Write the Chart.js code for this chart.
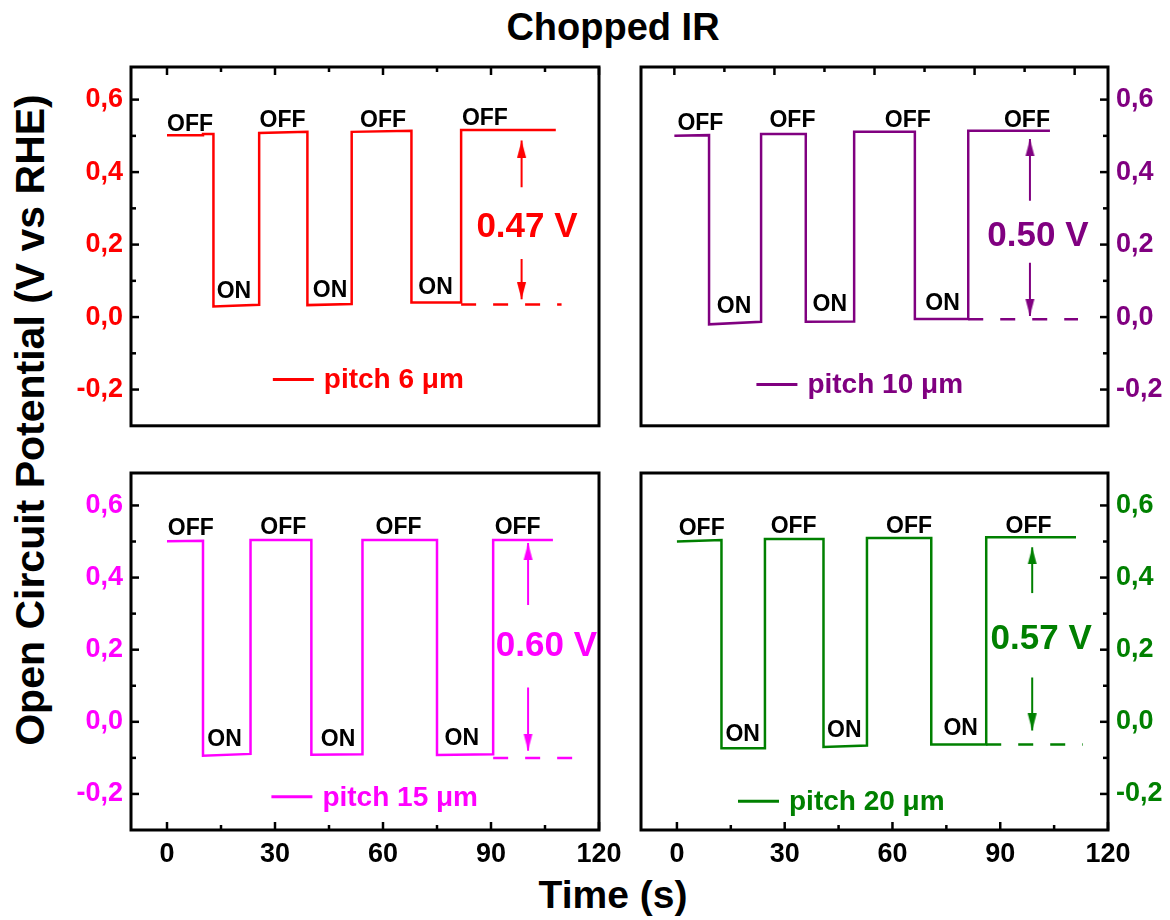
<!DOCTYPE html>
<html><head><meta charset="utf-8">
<script src="https://cdn.jsdelivr.net/npm/chart.js@4"></script>
<style>
html,body{margin:0;padding:0;background:#fff;}
#wrap{position:relative;width:1170px;height:920px;overflow:hidden;font-family:"Liberation Sans",Arial,sans-serif;font-weight:bold;}
canvas{position:absolute;}
.t{position:absolute;white-space:nowrap;color:#000;}
</style></head><body>
<div id="wrap">
 <div class="t" style="left:613px;top:8px;font-size:38px;line-height:38px;transform:translateX(-50%)">Chopped IR</div>
 <div class="t" style="left:30px;top:420px;font-size:41px;line-height:41px;transform:translate(-50%,-50%) rotate(-90deg)">Open Circuit Potential (V vs RHE)</div>
 <div class="t" style="left:613px;top:875px;font-size:39px;line-height:39px;transform:translateX(-50%)">Time (s)</div>
 <canvas id="tl" width="590" height="410" style="left:50px;top:40px"></canvas>
 <canvas id="tr" width="550" height="410" style="left:620px;top:40px"></canvas>
 <canvas id="bl" width="590" height="480" style="left:50px;top:440px"></canvas>
 <canvas id="br" width="550" height="480" style="left:620px;top:440px"></canvas>
</div>
<script>
// ---------- axis ticks ----------
const xTicks = [0, 30, 60, 90, 120];
const xMinorTicks = [15, 45, 75, 105];
const yTicks = [-0.2, 0, 0.2, 0.4, 0.6];
const yTickLabels = ['-0,2', '0,0', '0,2', '0,4', '0,6'];
const yMinorTicks = [-0.1, 0.1, 0.3, 0.5];

// ---------- pitch 6 µm ----------
const tlLabel = 'pitch 6 \u03bcm';
const tlTime = [0, 10, 10, 12.9, 12.9, 25.6, 25.6, 39.0, 39.0, 51.3, 51.3, 67.9, 67.9, 81.7, 81.7, 108];
const tlVolt = [0.502, 0.502, 0.505, 0.505, 0.029, 0.034, 0.508, 0.511, 0.033, 0.036, 0.511, 0.514, 0.040, 0.040, 0.516, 0.516];
const tlDashT = [81.7, 109.6];
const tlDashV = [0.035, 0.035];
const tlArrowT = 98.5;
const tlArrowV = [0.358, 0.487, 0.160, 0.049];
const tlDelta = '0.47 V';

// ---------- pitch 10 µm ----------
const trLabel = 'pitch 10 \u03bcm';
const trTime = [0, 10.4, 10.4, 26.0, 26.0, 39.4, 39.4, 53.9, 53.9, 72.1, 72.1, 88.1, 88.1, 112.6];
const trVolt = [0.500, 0.502, -0.020, -0.013, 0.505, 0.505, -0.013, -0.012, 0.511, 0.511, -0.005, -0.005, 0.514, 0.514];
const trDashT = [88.1, 121];
const trDashV = [-0.006, -0.006];
const trArrowT = 106.6;
const trArrowV = [0.321, 0.491, 0.150, 0.003];
const trDelta = '0.50 V';

// ---------- pitch 15 µm ----------
const blLabel = 'pitch 15 \u03bcm';
const blTime = [0, 10.0, 10.0, 23.2, 23.2, 40.1, 40.1, 54.3, 54.3, 75.0, 75.0, 90.6, 90.6, 107.2];
const blVolt = [0.501, 0.502, -0.094, -0.089, 0.504, 0.504, -0.091, -0.090, 0.504, 0.504, -0.092, -0.090, 0.504, 0.504];
const blDashT = [90.6, 112.6];
const blDashV = [-0.100, -0.100];
const blArrowT = 100.3;
const blArrowV = [0.324, 0.496, 0.095, -0.080];
const blDelta = '0.60 V';

// ---------- pitch 20 µm ----------
const brLabel = 'pitch 20 \u03bcm';
const brTime = [0, 12.4, 12.4, 24.5, 24.5, 40.8, 40.8, 52.9, 52.9, 70.8, 70.8, 86.1, 86.1, 111.1];
const brVolt = [0.500, 0.504, -0.073, -0.073, 0.507, 0.507, -0.070, -0.066, 0.510, 0.510, -0.063, -0.063, 0.512, 0.512];
const brDashT = [86.1, 113];
const brDashV = [-0.063, -0.063];
const brArrowT = 98.9;
const brArrowV = [0.357, 0.484, 0.123, -0.024];
const brDelta = '0.57 V';

// ---------- annotation anchors (data units) ----------
const notes = {
  tl: {offT: [6.4, 32.1, 60.0, 88.3], offV: [0.514, 0.524, 0.524, 0.530],
       onT: [18.6, 45.3, 74.6], onV: [0.054, 0.056, 0.063],
       deltaT: 100, deltaV: 0.248, legT: 29.4, legV: -0.172},
  tr: {offT: [7.8, 35.4, 70.0, 105.7], offV: [0.517, 0.524, 0.524, 0.524],
       onT: [17.9, 46.6, 80.4], onV: [0.010, 0.017, 0.019],
       deltaT: 109, deltaV: 0.224, legT: 24.6, legV: -0.186},
  bl: {offT: [6.6, 32.3, 64.3, 97.4], offV: [0.517, 0.520, 0.520, 0.520],
       onT: [16.0, 47.5, 81.9], onV: [-0.068, -0.068, -0.064],
       deltaT: 105.4, deltaV: 0.209, legT: 29.0, legV: -0.208},
  br: {offT: [6.9, 32.5, 64.6, 97.9], offV: [0.518, 0.525, 0.525, 0.525],
       onT: [18.3, 46.6, 79.0], onV: [-0.052, -0.042, -0.036],
       deltaT: 101.4, deltaV: 0.229, legT: 17.0, legV: -0.220}
};

const FONT = '"Liberation Sans", Arial, sans-serif';

function arrowHead(color) {
  const c = document.createElement('canvas');
  c.width = 11; c.height = 34;
  const g = c.getContext('2d');
  g.fillStyle = color;
  g.beginPath(); g.moveTo(5.5, 17); g.lineTo(10, 34); g.lineTo(1, 34); g.closePath(); g.fill();
  return c;
}

const decor = {
  id: 'decor',
  afterDatasetsDraw(chart, args, o) {
    const {ctx, chartArea: a} = chart;
    const x = chart.scales.x, y = chart.scales.y;
    const n = o.notes;
    ctx.save();
    // OFF / ON labels
    ctx.fillStyle = '#000';
    ctx.font = 'bold 23px ' + FONT;
    ctx.textAlign = 'center';
    ctx.textBaseline = 'alphabetic';
    n.offT.forEach((t, i) => ctx.fillText('OFF', x.getPixelForValue(t), y.getPixelForValue(n.offV[i])));
    n.onT.forEach((t, i) => ctx.fillText('ON', x.getPixelForValue(t), y.getPixelForValue(n.onV[i])));
    // delta label
    ctx.fillStyle = o.color;
    ctx.font = 'bold 35px ' + FONT;
    ctx.textBaseline = 'middle';
    ctx.fillText(o.delta, x.getPixelForValue(n.deltaT), y.getPixelForValue(n.deltaV));
    // legend
    const lx = x.getPixelForValue(n.legT), ly = y.getPixelForValue(n.legV);
    ctx.strokeStyle = o.color; ctx.lineWidth = 3;
    ctx.beginPath(); ctx.moveTo(lx, ly); ctx.lineTo(lx + 41, ly); ctx.stroke();
    ctx.font = 'bold 28px ' + FONT;
    ctx.textAlign = 'left';
    ctx.fillText(chart.data.datasets[0].label, lx + 51, ly + 1);
    // frame
    ctx.strokeStyle = '#000'; ctx.lineWidth = 3;
    ctx.strokeRect(a.left, a.top, a.right - a.left, a.bottom - a.top);
    // inward ticks
    ctx.lineWidth = 2.5;
    const xt = (vals, len) => vals.forEach(v => {
      const p = x.getPixelForValue(v);
      const y0 = o.xSide === 'top' ? a.top : a.bottom;
      const dir = o.xSide === 'top' ? 1 : -1;
      ctx.beginPath(); ctx.moveTo(p, y0); ctx.lineTo(p, y0 + dir * len); ctx.stroke();
    });
    const yt = (vals, len) => vals.forEach(v => {
      const p = y.getPixelForValue(v);
      const x0 = o.ySide === 'left' ? a.left : a.right;
      const dir = o.ySide === 'left' ? 1 : -1;
      ctx.beginPath(); ctx.moveTo(x0, p); ctx.lineTo(x0 + dir * len, p); ctx.stroke();
    });
    xt(xTicks, 8); xt(xMinorTicks, 5);
    yt(yTicks, 8); yt(yMinorTicks, 5);
    ctx.restore();
  }
};

function makePanel(id, p) {
  const pts = (ts, vs) => ts.map((t, i) => ({x: t, y: vs[i]}));
  const head = arrowHead(p.color);
  const datasets = [
    {label: p.label, data: pts(p.time, p.volt), borderColor: p.color, borderWidth: 2.5,
     pointRadius: 0, tension: 0, fill: false},
    {label: 'dash', data: pts(p.dashT, p.dashV), borderColor: p.color, borderWidth: 2.5,
     borderDash: [15, 17], pointRadius: 0, fill: false},
    {label: 'up', data: pts([p.arrowT, p.arrowT], [p.arrowV[0], p.arrowV[1]]), borderColor: p.color,
     borderWidth: 2, pointRadius: [0, 6], pointStyle: head, rotation: 0, fill: false},
    {label: 'down', data: pts([p.arrowT, p.arrowT], [p.arrowV[2], p.arrowV[3]]), borderColor: p.color,
     borderWidth: 2, pointRadius: [0, 6], pointStyle: head, rotation: 180, fill: false}
  ];
  const tickFont = {family: FONT, size: 27, weight: 'bold'};
  new Chart(document.getElementById(id), {
    type: 'line',
    data: {datasets},
    plugins: [decor],
    options: {
      responsive: false, animation: false, devicePixelRatio: 1, events: [],
      layout: {padding: p.pad},
      plugins: {legend: {display: false}, tooltip: {enabled: false},
        decor: {notes: p.notes, color: p.color, delta: p.delta, xSide: p.xShow ? 'bottom' : 'top', ySide: p.yPos}},
      scales: {
        x: {type: 'linear', min: -10, max: p.xMax, position: 'bottom', display: p.xShow,
            grid: {display: false, drawTicks: false}, border: {display: false},
            ticks: {font: tickFont, color: '#000', padding: 8, maxRotation: 0},
            afterBuildTicks: s => { s.ticks = xTicks.map(v => ({value: v})); },
            afterFit: s => { if (p.xShow) s.height = 90; }},
        y: {type: 'linear', min: -0.3, max: 0.69, position: p.yPos,
            grid: {display: false, drawTicks: false}, border: {display: false},
            ticks: {font: tickFont, color: p.color, padding: 8,
                    callback: v => { const i = yTicks.findIndex(t => Math.abs(t - v) < 1e-9); return i < 0 ? '' : yTickLabels[i]; }},
            afterBuildTicks: s => { s.ticks = yTicks.map(v => ({value: v})); },
            afterFit: s => { s.width = p.yWidth; }}
      }
    }
  });
}

makePanel('tl', {time: tlTime, volt: tlVolt, dashT: tlDashT, dashV: tlDashV, arrowT: tlArrowT, arrowV: tlArrowV,
  color: 'rgb(255,0,0)', label: tlLabel, delta: tlDelta, notes: notes.tl, xMax: 120, yPos: 'left', xShow: false,
  yWidth: 81, pad: {left: 0, right: 41, top: 27, bottom: 23}});
makePanel('tr', {time: trTime, volt: trVolt, dashT: trDashT, dashV: trDashV, arrowT: trArrowT, arrowV: trArrowV,
  color: 'rgb(128,0,128)', label: trLabel, delta: trDelta, notes: notes.tr, xMax: 130, yPos: 'right', xShow: false,
  yWidth: 62, pad: {left: 21, right: 0, top: 27, bottom: 23}});
makePanel('bl', {time: blTime, volt: blVolt, dashT: blDashT, dashV: blDashV, arrowT: blArrowT, arrowV: blArrowV,
  color: 'rgb(255,0,255)', label: blLabel, delta: blDelta, notes: notes.bl, xMax: 120, yPos: 'left', xShow: true,
  yWidth: 81, pad: {left: 0, right: 41, top: 33, bottom: 0}});
makePanel('br', {time: brTime, volt: brVolt, dashT: brDashT, dashV: brDashV, arrowT: brArrowT, arrowV: brArrowV,
  color: 'rgb(0,128,0)', label: brLabel, delta: brDelta, notes: notes.br, xMax: 120, yPos: 'right', xShow: true,
  yWidth: 62, pad: {left: 21, right: 0, top: 33, bottom: 0}});
</script>
</body></html>
